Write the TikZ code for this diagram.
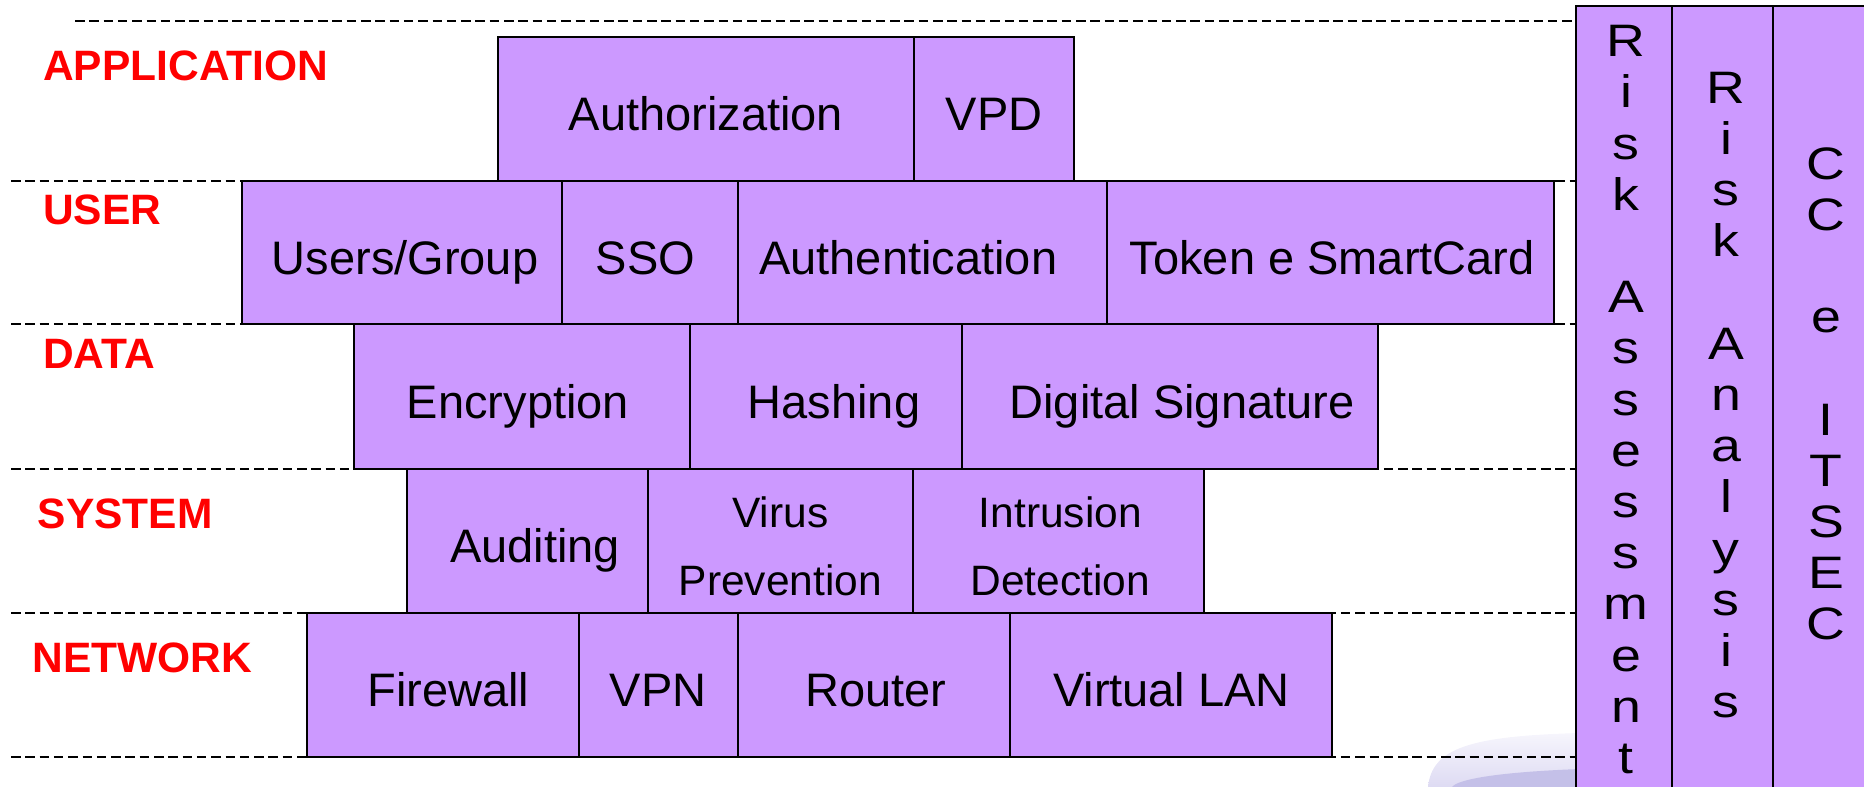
\documentclass[tikz,border=0pt]{standalone}
\usepackage{fontspec}
\setmainfont{Liberation Sans}
\usepackage{graphicx}
\definecolor{cellfill}{HTML}{CC99FF}
\definecolor{layerred}{HTML}{FF0000}

% one-line cell text: baseline below the cell centre, optional horizontal nudge
\newcommand\oneline[2]{\raisebox{-21.5pt}[0pt][0pt]{\hspace*{#1pt}#2\hspace*{-#1pt}}}
% two-line cell text
\newcommand\twoline[3]{\raisebox{-54.7pt}[0pt][0pt]{\hspace*{#1pt}\begin{tabular}[b]{@{}c@{}}#2\\#3\end{tabular}\hspace*{-#1pt}}}
% a cell from (x1,y1) to (x2,y2), y measured downwards
\newcommand\cellbox[7][]{\node[cell,#1,minimum width=#5pt-#3pt,minimum height=#6pt-#4pt] (#2) at (#3,#4) {#7};}

\tikzset{
  cell/.style={draw=black,line width=2pt,fill=cellfill,inner sep=0pt,outer sep=0pt,
    anchor=north west,font=\fontsize{47}{56}\selectfont},
  small/.style={font=\fontsize{42.5}{68}\selectfont},
  guide/.style={draw=black,line width=1.8pt,dash pattern=on 9.5pt off 4.8pt},
  layer/.style={text=layerred,inner sep=0pt,anchor=base west,font=\fontsize{42.5}{50}\selectfont\bfseries},
  column/.style={draw=black,line width=2pt,fill=cellfill,inner sep=0pt,anchor=north west},
  vtext/.style={inner sep=0pt,anchor=base,font=\fontsize{45.5}{51.2}\selectfont}
}

\begin{document}
\begin{tikzpicture}[x=1pt,y=-1pt]
\useasboundingbox (0,0) rectangle (1864,787);
\clip (0,0) rectangle (1864,787);

% faint disc in the lower right corner
\shade[top color={rgb,255:red,246;green,245;blue,252},bottom color={rgb,255:red,222;green,219;blue,243}]
  (1428,787) .. controls (1432,748) and (1470,736) .. (1580,733) -- (1580,787) -- cycle;
\fill[color={rgb,255:red,196;green,192;blue,232}]
  (1452,787) .. controls (1458,779) and (1500,772) .. (1580,769) -- (1580,787) -- cycle;

% layer separators
\draw[guide] (75,20.7) -- (1575,20.7);
\foreach \y in {181,324.3,469,612.7,756.7}
  \draw[guide] (11,\y) -- (1575,\y);

% layer names
\node[layer] (lapp) at (43,80) {APPLICATION};
\node[layer] (luser) at (43,224) {USER};
\node[layer] (ldata) at (43,368) {DATA};
\node[layer] (lsys) at (37.5,528) {SYSTEM};
\node[layer] (lnet) at (32.6,672) {NETWORK};

% application layer
\cellbox{auth}{498}{36.7}{914}{181}{\oneline{0}{Authorization}}
\cellbox{vpd}{914}{36.7}{1074}{181}{\oneline{0}{VPD}}

% user layer
\cellbox{users}{242}{181}{562}{324.3}{\oneline{3}{Users/Group}}
\cellbox{sso}{562}{181}{738}{324.3}{\oneline{-4.6}{SSO}}
\cellbox{authn}{738}{181}{1106.5}{324.3}{\oneline{-14}{Authentication}}
\cellbox{token}{1106.5}{181}{1554}{324.3}{\oneline{2}{Token e SmartCard}}

% data layer
\cellbox{enc}{354}{324.3}{690}{469}{\oneline{-4}{Encryption}}
\cellbox{hash}{690}{324.3}{962}{469}{\oneline{8}{Hashing}}
\cellbox{dsig}{962}{324.3}{1378}{469}{\oneline{12}{Digital Signature}}

% system layer
\cellbox{audit}{406.7}{469}{647.5}{612.7}{\oneline{8}{Auditing}}
\cellbox[small]{virus}{647.5}{469}{913}{612.7}{\twoline{0}{Virus}{Prevention}}
\cellbox[small]{ids}{913}{469}{1203.6}{612.7}{\twoline{2}{Intrusion}{Detection}}

% network layer
\cellbox{fw}{306.5}{612.7}{578.5}{756.7}{\oneline{6}{Firewall}}
\cellbox{vpn}{578.5}{612.7}{738}{756.7}{\oneline{0}{VPN}}
\cellbox{router}{738}{612.7}{1009.5}{756.7}{\oneline{2}{Router}}
\cellbox{vlan}{1009.5}{612.7}{1331.5}{756.7}{\oneline{1}{Virtual LAN}}

% cross-layer columns
\node[column,minimum width=96pt,minimum height=800pt] (colA) at (1575,4.7) {};
\node[column,minimum width=101pt,minimum height=800pt] (colB) at (1671,4.7) {};
\node[column,minimum width=110pt,minimum height=800pt] (colC) at (1772,4.7) {};

\node[vtext] (riskass) at (1626,56.7) {\scalebox{1.18}[1]{\begin{tabular}[t]{@{}c@{}}R\\i\\s\\k\\ \\A\\s\\s\\e\\s\\s\\m\\e\\n\\t\end{tabular}}};
\node[vtext] (riskan) at (1726,103.3) {\scalebox{1.18}[1]{\begin{tabular}[t]{@{}c@{}}R\\i\\s\\k\\ \\A\\n\\a\\l\\y\\s\\i\\s\end{tabular}}};
\node[vtext] (ccitsec) at (1826,179) {\scalebox{1.18}[1]{\begin{tabular}[t]{@{}c@{}}C\\C\\ \\e\\ \\I\\T\\S\\E\\C\end{tabular}}};
\end{tikzpicture}
\end{document}
